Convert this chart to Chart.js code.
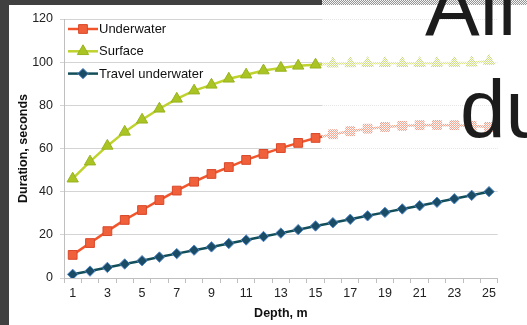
<!DOCTYPE html>
<html>
<head>
<meta charset="utf-8">
<script src="https://cdn.jsdelivr.net/npm/chart.js@4.4.1/dist/chart.umd.min.js"></script>
<style>
  html, body { margin: 0; padding: 0; background: #3f3f3f; overflow: hidden; }
  #wrap { position: relative; width: 527px; height: 325px; }
  canvas { display: block; }
</style>
</head>
<body>
<div id="wrap"><canvas id="c" width="527" height="325"></canvas></div>
<script>
// Depth in metres
const depths = [1, 2, 3, 4, 5, 6, 7, 8, 9, 10, 11, 12, 13, 14, 15, 16, 17, 18, 19, 20, 21, 22, 23, 24, 25];
// Labels printed under the x axis
const depthTickLabels = ['1', '3', '5', '7', '9', '11', '13', '15', '17', '19', '21', '23', '25'];

// Duration, seconds
const underwater = [10.7, 16.2, 21.7, 26.9, 31.5, 36.1, 40.5, 44.6, 48.2, 51.4, 54.7, 57.5, 60.2, 62.6, 64.9,
                    66.6, 68.0, 69.2, 70.0, 70.5, 70.8, 70.9, 70.8, 70.5, 70.0];
const surface = [46.0, 53.9, 61.2, 67.7, 73.3, 78.4, 83.0, 86.8, 89.5, 92.3, 94.2, 96.1, 97.3, 98.3, 98.8,
                 99.3, 99.4, 99.5, 99.5, 99.5, 99.5, 99.5, 99.6, 99.7, 100.5];
const travelUnderwater = [1.7, 3.2, 4.9, 6.5, 8.0, 9.7, 11.3, 12.9, 14.4, 16.0, 17.6, 19.2, 20.8, 22.4, 24.1,
                          25.6, 27.2, 28.8, 30.4, 32.0, 33.5, 35.1, 36.7, 38.3, 40.0];

const yTicks = [0, 20, 40, 60, 80, 100, 120];

const FONT = '"Liberation Sans", Arial, sans-serif';

// Slide backdrop: dark frame on the left and top, white panel for the chart
const backdrop = {
  id: 'backdrop',
  beforeDraw(chart) {
    const ctx = chart.ctx;
    ctx.save();
    ctx.fillStyle = '#404040';
    ctx.fillRect(0, 0, chart.width, chart.height);
    ctx.fillStyle = '#ffffff';
    ctx.fillRect(9, 5, chart.width - 9, chart.height - 5);
    ctx.restore();
  }
};

// Legend drawn inside the plot, line + marker + label per series
const insideLegend = {
  id: 'insideLegend',
  afterDatasetsDraw(chart) {
    const ctx = chart.ctx;
    const area = chart.chartArea;
    const x0 = area.left + 4, x1 = area.left + 34;
    ctx.save();
    chart.data.datasets.forEach((ds, i) => {
      const y = area.top + 10 + i * 22.3;
      ctx.strokeStyle = ds.borderColor;
      ctx.lineWidth = ds.borderWidth;
      ctx.beginPath();
      ctx.moveTo(x0, y);
      ctx.lineTo(x1, y);
      ctx.stroke();
      ctx.fillStyle = ds.pointBackgroundColor;
      ctx.strokeStyle = ds.pointBorderColor;
      ctx.lineWidth = ds.pointBorderWidth;
      Chart.helpers.drawPoint(ctx, {
        pointStyle: ds.pointStyle, radius: ds.pointRadius, rotation: 0, borderWidth: ds.pointBorderWidth
      }, (x0 + x1) / 2, y);
      ctx.fillStyle = '#111111';
      ctx.font = '13px ' + FONT;
      ctx.textBaseline = 'middle';
      ctx.textAlign = 'left';
      ctx.fillText(ds.label, x1 + 1, y + 0.5);
    });
    ctx.restore();
  }
};

// Translucent title box over the right part of the chart, with its heading text
const titleBox = {
  id: 'titleBox',
  afterDraw(chart) {
    const ctx = chart.ctx;
    const tile = document.createElement('canvas');
    tile.width = 2; tile.height = 2;
    const t = tile.getContext('2d');
    t.fillStyle = 'rgba(255,255,255,0.95)';
    t.fillRect(0, 0, 1, 1); t.fillRect(1, 1, 1, 1);
    t.fillStyle = 'rgba(255,255,255,0.45)';
    t.fillRect(1, 0, 1, 1); t.fillRect(0, 1, 1, 1);
    ctx.save();
    ctx.fillStyle = ctx.createPattern(tile, 'repeat');
    ctx.fillRect(322, 0, chart.width - 322, 170);
    ctx.fillStyle = '#1c1c1c';
    ctx.font = '82px ' + FONT;
    ctx.textBaseline = 'alphabetic';
    ctx.textAlign = 'left';
    ctx.fillText('All', 425, 35);
    ctx.fillText('du', 460, 137);
    ctx.restore();
  }
};

new Chart(document.getElementById('c'), {
  type: 'line',
  data: {
    labels: depths,
    datasets: [
      {
        label: 'Underwater',
        data: underwater,
        borderColor: '#f2552c',
        borderWidth: 2.5,
        pointStyle: 'rect',
        pointRadius: 6.2,
        pointBackgroundColor: '#f0603a',
        pointBorderColor: '#d9482a',
        pointBorderWidth: 1
      },
      {
        label: 'Surface',
        data: surface,
        borderColor: '#bfd22e',
        borderWidth: 2.5,
        pointStyle: 'triangle',
        pointRadius: 6.5,
        pointBackgroundColor: '#a9c423',
        pointBorderColor: '#98b31d',
        pointBorderWidth: 1
      },
      {
        label: 'Travel underwater',
        data: travelUnderwater,
        borderColor: '#134f5a',
        borderWidth: 2.5,
        pointStyle: 'rectRot',
        pointRadius: 5.2,
        pointBackgroundColor: '#1b4c66',
        pointBorderColor: '#4f86c6',
        pointBorderWidth: 1
      }
    ]
  },
  options: {
    responsive: false,
    animation: false,
    devicePixelRatio: 1,
    layout: { padding: { top: 19, right: 29.3, bottom: 0, left: 0 } },
    plugins: { legend: { display: false }, tooltip: { enabled: false } },
    elements: { line: { tension: 0 } },
    scales: {
      x: {
        type: 'category',
        offset: true,
        grid: { display: true, drawOnChartArea: false, offset: true, color: '#bfbfbf', tickLength: 5 },
        border: { display: true, color: '#bfbfbf' },
        ticks: {
          autoSkip: false,
          maxRotation: 0,
          padding: 3,
          color: '#222222',
          font: { family: FONT, size: 12.5 },
          callback(value) {
            const lbl = String(this.getLabelForValue(value));
            return depthTickLabels.includes(lbl) ? lbl : '';
          }
        },
        title: {
          display: true,
          text: 'Depth, m',
          color: '#111111',
          font: { family: FONT, size: 12.5, weight: 'bold' },
          padding: { top: 2, bottom: 4 }
        },
        afterFit(scale) { scale.height = 47; }
      },
      y: {
        min: 0,
        max: 120,
        afterBuildTicks(scale) { scale.ticks = yTicks.map(v => ({ value: v })); },
        grid: { color: '#d4d4d4', tickLength: 4 },
        border: { display: true, color: '#bfbfbf' },
        ticks: {
          padding: 7,
          color: '#222222',
          font: { family: FONT, size: 12.5 }
        },
        title: {
          display: true,
          text: 'Duration, seconds',
          color: '#111111',
          font: { family: FONT, size: 12.5, weight: 'bold' },
          padding: { top: 16, bottom: 0 }
        },
        afterFit(scale) { scale.width = 64; }
      }
    }
  },
  plugins: [backdrop, insideLegend, titleBox]
});
</script>
</body>
</html>
